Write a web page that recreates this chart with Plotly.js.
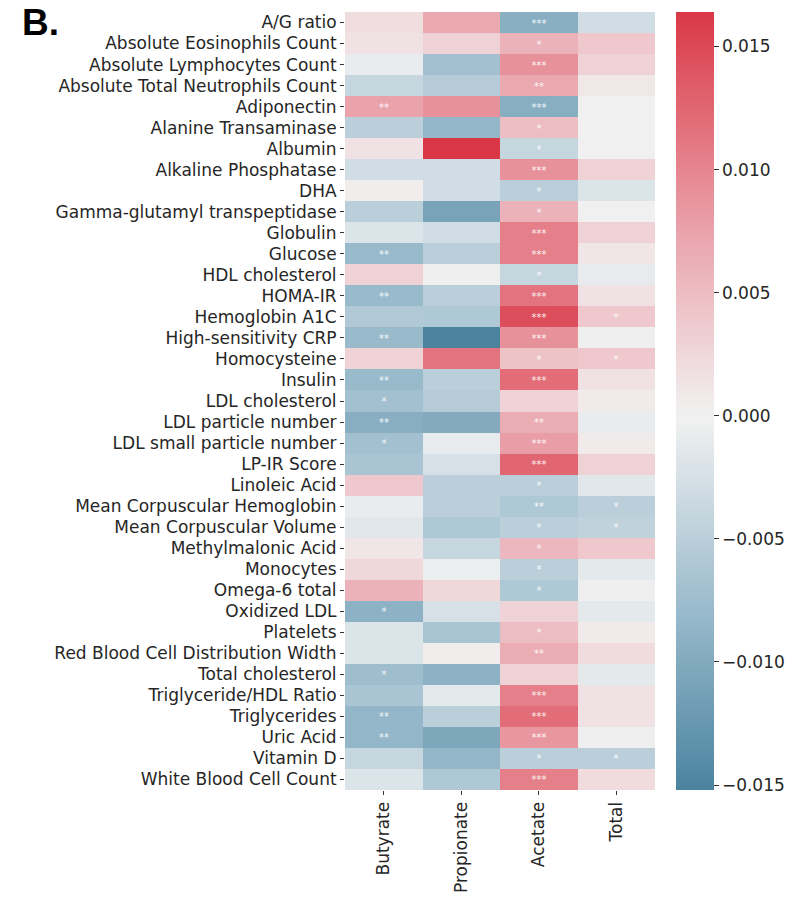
<!DOCTYPE html>
<html>
<head>
<meta charset="utf-8">
<script src="https://cdn.plot.ly/plotly-3.0.1.min.js"></script>
<style>html,body{margin:0;padding:0;background:#fff;}#chart{width:797px;height:905px;}</style>
</head>
<body>
<div id="chart"></div>
<script>
const rows = ["A/G ratio","Absolute Eosinophils Count","Absolute Lymphocytes Count","Absolute Total Neutrophils Count","Adiponectin","Alanine Transaminase","Albumin","Alkaline Phosphatase","DHA","Gamma-glutamyl transpeptidase","Globulin","Glucose","HDL cholesterol","HOMA-IR","Hemoglobin A1C","High-sensitivity CRP","Homocysteine","Insulin","LDL cholesterol","LDL particle number","LDL small particle number","LP-IR Score","Linoleic Acid","Mean Corpuscular Hemoglobin","Mean Corpuscular Volume","Methylmalonic Acid","Monocytes","Omega-6 total","Oxidized LDL","Platelets","Red Blood Cell Distribution Width","Total cholesterol","Triglyceride/HDL Ratio","Triglycerides","Uric Acid","Vitamin D","White Blood Cell Count"];
const columns = ["Butyrate","Propionate","Acetate","Total"];

const butyrate = [0.0020,0.0015,-0.0008,-0.0040,0.0075,-0.0050,0.0015,-0.0030,0.0004,-0.0050,-0.0020,-0.0080,0.0030,-0.0080,-0.0058,-0.0080,0.0030,-0.0080,-0.0070,-0.0095,-0.0070,-0.0065,0.0040,-0.0008,-0.0015,0.0012,0.0025,0.0060,-0.0090,-0.0020,-0.0020,-0.0075,-0.0065,-0.0085,-0.0085,-0.0040,-0.0020];
const propionate = [0.0070,0.0030,-0.0070,-0.0055,0.0090,-0.0085,0.0164,-0.0030,-0.0030,-0.0110,-0.0030,-0.0050,0.0002,-0.0050,-0.0060,-0.0152,0.0115,-0.0050,-0.0055,-0.0100,-0.0010,-0.0025,-0.0050,-0.0050,-0.0060,-0.0040,-0.0005,0.0025,-0.0025,-0.0065,0.0005,-0.0090,-0.0012,-0.0050,-0.0105,-0.0085,-0.0060];
const acetate = [-0.0095,0.0060,0.0090,0.0070,-0.0095,0.0050,-0.0040,0.0090,-0.0050,0.0060,0.0105,0.0105,-0.0040,0.0115,0.0145,0.0090,0.0045,0.0120,0.0030,0.0065,0.0080,0.0125,-0.0050,-0.0060,-0.0050,0.0055,-0.0050,-0.0060,0.0030,0.0050,0.0065,0.0030,0.0105,0.0120,0.0085,-0.0050,0.0105];
const total = [-0.0030,0.0040,0.0030,0.0010,0.0000,0.0000,0.0000,0.0030,-0.0020,0.0000,0.0030,0.0012,-0.0010,0.0015,0.0040,0.0002,0.0040,0.0015,0.0008,-0.0008,0.0008,0.0030,-0.0015,-0.0050,-0.0045,0.0040,-0.0012,0.0002,-0.0012,0.0008,0.0022,-0.0012,0.0015,0.0015,0.0002,-0.0050,0.0022];

const butyrateSig = ["","","","","**","","","","","","","**","","**","","**","","**","*","**","*","","","","","","","","*","","","*","","**","**","",""];
const propionateSig = ["","","","","","","","","","","","","","","","","","","","","","","","","","","","","","","","","","","","",""];
const acetateSig = ["***","*","***","**","***","*","*","***","*","*","***","***","*","***","***","***","*","***","","**","***","***","*","**","*","*","*","*","","*","**","","***","***","***","*","***"];
const totalSig = ["","","","","","","","","","","","","","","*","","*","","","","","","","*","*","","","","","","","","","","","*",""];

const cbTicks = [-0.015,-0.010,-0.005,0.000,0.005,0.010,0.015];

const series = [butyrate, propionate, acetate, total];
const sigs = [butyrateSig, propionateSig, acetateSig, totalSig];
const z = rows.map((r,i)=>series.map(s=>s[i]));
const txt = rows.map((r,i)=>sigs.map(s=>s[i]));

let zmin = Infinity, zmax = -Infinity;
series.forEach(s=>s.forEach(v=>{zmin=Math.min(zmin,v);zmax=Math.max(zmax,v);}));
const M = Math.max(Math.abs(zmin), Math.abs(zmax));

// diverging palette anchors (t = |v|/M)
const mid = [242,242,242];
const redA = [[0,mid],[0.5,[233,155,164]],[1,[218,55,70]]];
const blueA = [[0,mid],[0.5,[150,184,202]],[1,[62,122,152]]];
function interp(anchors,t){
  for(let k=1;k<anchors.length;k++){
    if(t<=anchors[k][0]){
      const a=anchors[k-1],b=anchors[k];
      const f=(t-a[0])/(b[0]-a[0]);
      return a[1].map((c,j)=>Math.round(c+(b[1][j]-c)*f));
    }
  }
  return anchors[anchors.length-1][1];
}
const colorscale=[];
const N=40;
for(let k=0;k<=N;k++){
  const v = zmin + (zmax-zmin)*k/N;
  const t = Math.abs(v)/M;
  const c = v>=0 ? interp(redA,t) : interp(blueA,t);
  colorscale.push([k/N, `rgb(${c[0]},${c[1]},${c[2]})`]);
}

const trace = {
  type:'heatmap',
  x: columns, y: rows, z: z,
  text: txt, texttemplate:'%{text}',
  textfont:{color:'rgba(255,255,255,0.9)', size:10, family:'DejaVu Sans'},
  zmin: zmin, zmax: zmax,
  colorscale: colorscale,
  xgap:0, ygap:0,
  hoverinfo:'skip',
  colorbar:{
    x:1.067, xanchor:'left', xref:'paper',
    y:0.5, yanchor:'middle', len:1, lenmode:'fraction',
    thickness:38, thicknessmode:'pixels',
    outlinewidth:0,
    tickvals: cbTicks, tickformat:'.3f',
    ticks:'outside', ticklen:5, tickcolor:'#333', tickwidth:1,
    tickfont:{family:'DejaVu Sans', size:17, color:'#262626'},
    xpad:0, ypad:0
  }
};

const layout = {
  width:797, height:905,
  margin:{l:345, r:140, t:12, b:115},
  paper_bgcolor:'#fff', plot_bgcolor:'#fff',
  xaxis:{
    tickangle:-90, ticks:'outside', ticklen:4, tickcolor:'#333',
    tickfont:{family:'DejaVu Sans', size:17, color:'#262626'},
    showgrid:false, zeroline:false, showline:false
  },
  yaxis:{
    autorange:'reversed', ticks:'outside', ticklen:4, tickcolor:'#333',
    tickfont:{family:'DejaVu Sans', size:17, color:'#262626'},
    showgrid:false, zeroline:false, showline:false
  },
  annotations:[{
    text:'<b>B.</b>', xref:'paper', yref:'paper',
    x:-1.05, y:1.015, xanchor:'left', yanchor:'top', showarrow:false,
    font:{family:'Liberation Sans', size:37, color:'#000'}
  }]
};

Plotly.newPlot('chart',[trace],layout,{displayModeBar:false, staticPlot:true});
</script>
</body>
</html>
